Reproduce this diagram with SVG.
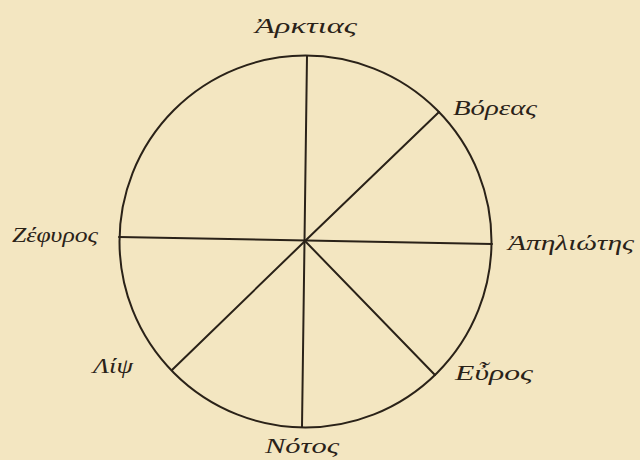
<svg xmlns="http://www.w3.org/2000/svg" width="640" height="460" viewBox="0 0 640 460">
<style>
.bg{fill:#f3e6c1}
.ln{stroke:#2a2218;stroke-width:2;fill:none;stroke-linecap:round}
.lb{font-family:"Liberation Serif","DejaVu Serif",serif;font-style:italic;font-size:22px;fill:#2a2218}
</style>
<rect class="bg" x="0" y="0" width="640" height="460"/>
<g id="rose">
<circle class="ln" cx="305.5" cy="241.5" r="186"/>
</g>
<g id="connectors">
<line class="ln" x1="307" y1="56" x2="302" y2="427"/>
<line class="ln" x1="119" y1="237" x2="492" y2="244"/>
<line class="ln" x1="305" y1="241" x2="439" y2="112"/>
<line class="ln" x1="305" y1="241" x2="172" y2="370"/>
<line class="ln" x1="305" y1="241" x2="435" y2="375"/>
</g>
<g id="n-arktias"><text class="lb" x="306" y="33" text-anchor="middle" textLength="102" lengthAdjust="spacingAndGlyphs">Ἀρκτιας</text></g>
<g id="n-boreas"><text class="lb" x="453" y="115" textLength="84" lengthAdjust="spacingAndGlyphs">Βόρεας</text></g>
<g id="n-apeliotes"><text class="lb" x="508" y="250" textLength="126" lengthAdjust="spacingAndGlyphs">Ἀπηλιώτης</text></g>
<g id="n-zephyros"><text class="lb" x="12" y="242" textLength="86" lengthAdjust="spacingAndGlyphs">Ζέφυρος</text></g>
<g id="n-lips"><text class="lb" x="93" y="373" textLength="40" lengthAdjust="spacingAndGlyphs">Λίψ</text></g>
<g id="n-notos"><text class="lb" x="265" y="453" textLength="74" lengthAdjust="spacingAndGlyphs">Νότος</text></g>
<g id="n-euros"><text class="lb" x="455" y="380" textLength="78" lengthAdjust="spacingAndGlyphs">Εὖρος</text></g>
</svg>
